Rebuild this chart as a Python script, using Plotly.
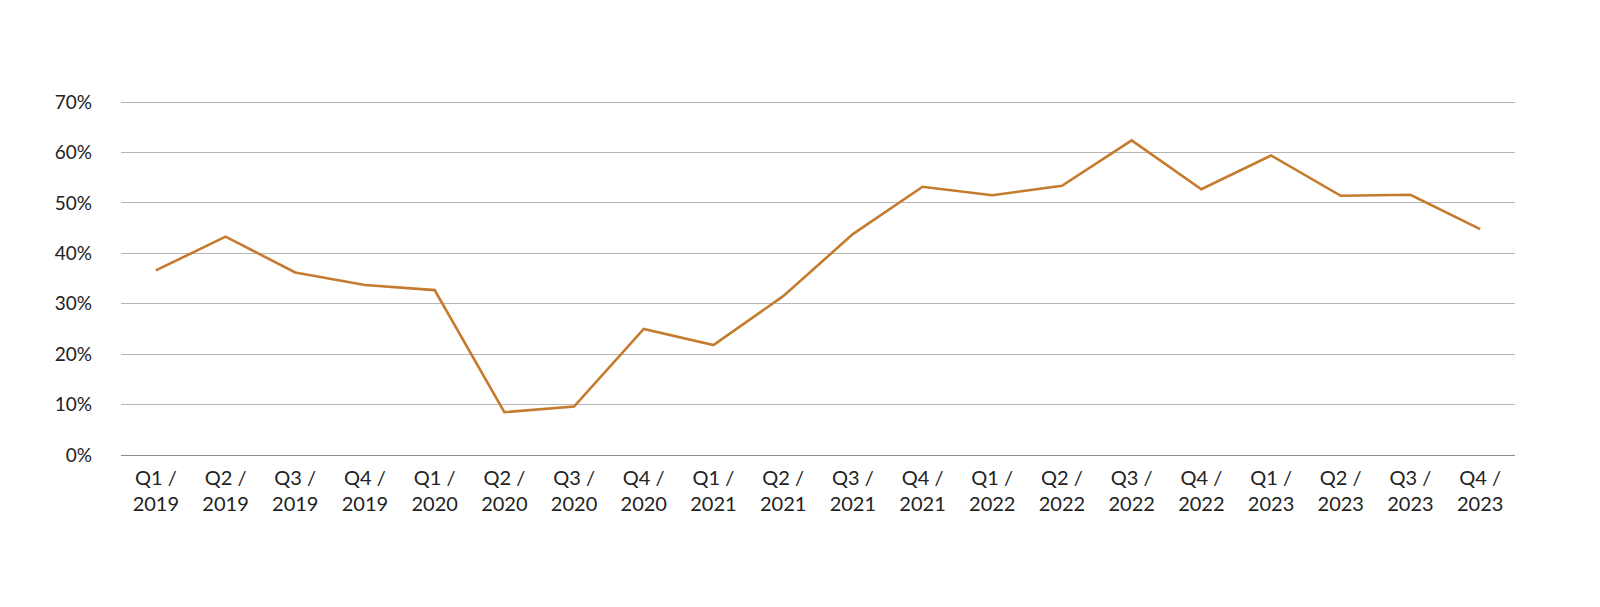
import plotly.graph_objects as go

quarters = ["Q1 / 2019", "Q2 / 2019", "Q3 / 2019", "Q4 / 2019",
            "Q1 / 2020", "Q2 / 2020", "Q3 / 2020", "Q4 / 2020",
            "Q1 / 2021", "Q2 / 2021", "Q3 / 2021", "Q4 / 2021",
            "Q1 / 2022", "Q2 / 2022", "Q3 / 2022", "Q4 / 2022",
            "Q1 / 2023", "Q2 / 2023", "Q3 / 2023", "Q4 / 2023"]
tick_labels = [q.replace(" / ", " /<br>") for q in quarters]
values = [36.6, 43.3, 36.2, 33.7, 32.7, 8.5, 9.6, 25.0, 21.8, 31.5,
          43.8, 53.2, 51.5, 53.4, 62.4, 52.7, 59.4, 51.4, 51.6, 44.8]
y_ticks = [0, 10, 20, 30, 40, 50, 60, 70]
y_tick_labels = [f"{v}%" for v in y_ticks]

fig = go.Figure()
fig.add_trace(go.Scatter(
    x=quarters, y=values, mode="lines",
    line=dict(color="#C57B2E", width=2.6),
    hovertemplate="%{x}: %{y}%<extra></extra>",
))

fig.update_layout(
    width=1584, height=591,
    margin=dict(l=113, r=77, t=92, b=144),
    paper_bgcolor="white", plot_bgcolor="white",
    showlegend=False,
    font=dict(family="Lato, Open Sans, sans-serif", size=19, color="#222222"),
    xaxis=dict(
        type="category", range=[-0.5, len(quarters) - 0.5],
        tickmode="array", tickvals=quarters, ticktext=tick_labels,
        showgrid=False, showline=True, linecolor="#8a8a8a", linewidth=1.2,
        ticks="", tickfont=dict(size=20, color="#222222"),
        ticklabelstandoff=5,
        zeroline=False,
    ),
    yaxis=dict(
        range=[0, 70.4], tickmode="array", tickvals=y_ticks, ticktext=y_tick_labels,
        showgrid=True, gridcolor="#b5b5b5", gridwidth=1,
        zeroline=False, showline=False, ticks="",
        ticklabelstandoff=28,
        tickfont=dict(size=19, color="#222222"),
    ),
)

fig.write_html("out.html")
